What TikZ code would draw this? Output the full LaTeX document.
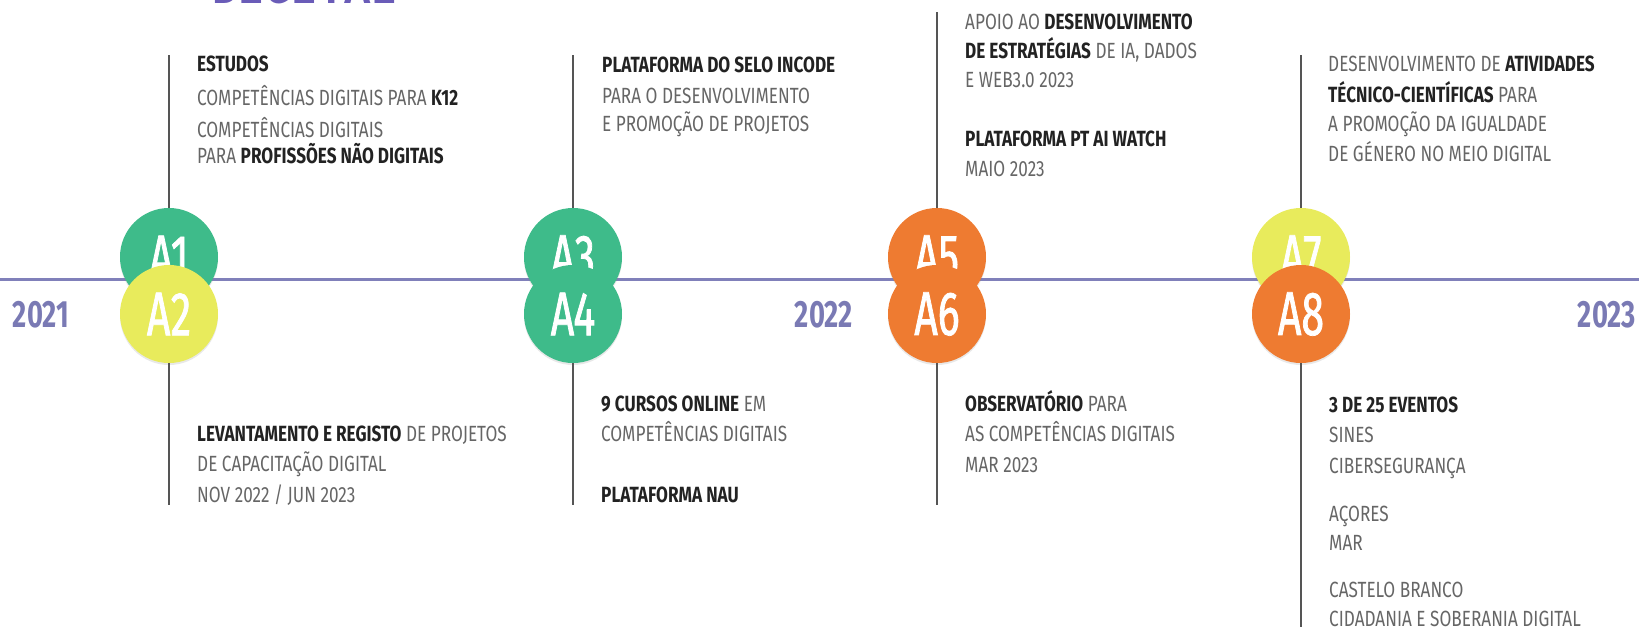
\documentclass[tikz,border=0pt]{standalone}
\usepackage{fontspec}
\setmainfont{Fira Sans}
\newfontfamily\cond[FakeStretch=0.78]{Fira Sans}
\newfontfamily\condyear[FakeStretch=0.72]{Fira Sans}
\newfontfamily\condlab[FakeStretch=0.66, FakeBold=1.2]{Fira Sans}
\newfontfamily\monof{Liberation Mono}
\usetikzlibrary{shadows}
\definecolor{linec}{HTML}{8080BA}
\definecolor{yearc}{HTML}{7A7AB4}
\definecolor{cgreen}{HTML}{3EBB8A}
\definecolor{cyellow}{HTML}{E8EB5C}
\definecolor{corange}{HTML}{EE7B31}
\definecolor{txtgray}{HTML}{666666}
\definecolor{txtdark}{HTML}{222222}
\definecolor{vlinec}{HTML}{555555}
\definecolor{titlec}{HTML}{6A5CB8}
\newcommand\hb[1]{{\bfseries\color{txtdark}#1}}
\tikzset{
  hline/.style={draw=linec, line width=3pt},
  vline/.style={draw=vlinec, line width=1.5pt},
  circ/.style={circle, minimum size=98pt, inner sep=0pt, text=white,
    font=\condlab\fontsize{62}{62}\selectfont,
    drop shadow={opacity=0.18, shadow xshift=0pt, shadow yshift=-2pt}},
  year/.style={inner sep=0pt, text=yearc, font=\condyear\bfseries\fontsize{38}{38}\selectfont},
  txt/.style={anchor=base west, inner sep=0pt, text=txtgray, font=\cond\fontsize{22}{26}\selectfont},
  titletxt/.style={anchor=base, inner sep=0pt, text=titlec, font=\monof\bfseries\fontsize{44}{44}\selectfont}
}
\begin{document}
\begin{tikzpicture}[x=1pt,y=-1pt]
\useasboundingbox (0,0) rectangle (1639,629);
\node[titletxt] (dig) at (305,4) {DIGITAL};
% timeline
\coordinate (L) at (0,279);
\coordinate (R) at (1639,279);
\draw[hline] (L) -- (R);
% year labels
\node[year] (y21) at (41,315) {2021};
\node[year] (y22) at (824,315) {2022};
\node[year] (y23) at (1607,315) {2023};
% end points of stems
\coordinate (t1) at (169,55);
\coordinate (t3) at (573,55);
\coordinate (t5) at (937,12);
\coordinate (t7) at (1301,55);
\coordinate (b2) at (169,505);
\coordinate (b4) at (573,505);
\coordinate (b6) at (937,505);
\coordinate (b8) at (1301,627);
% circles
\node[circ, fill=cgreen] (a1) at (169,257) {A1};
\node[circ, fill=cyellow] (a2) at (169,314) {A2};
\node[circ, fill=cgreen] (a3) at (573,257) {A3};
\node[circ, fill=cgreen] (a4) at (573,314) {A4};
\node[circ, fill=corange] (a5) at (937,257) {A5};
\node[circ, fill=corange] (a6) at (937,314) {A6};
\node[circ, fill=cyellow] (a7) at (1301,257) {A7};
\node[circ, fill=corange] (a8) at (1301,314) {A8};
% stems
\draw[vline] (t1) -- (a1);
\draw[vline] (t3) -- (a3);
\draw[vline] (t5) -- (a5);
\draw[vline] (t7) -- (a7);
\draw[vline] (a2) -- (b2);
\draw[vline] (a4) -- (b4);
\draw[vline] (a6) -- (b6);
\draw[vline] (a8) -- (b8);
% A1 text
\node[txt] (a1l1) at (197,71) {\hb{ESTUDOS}};
\node[txt] (a1l2) at (197,105) {COMPETÊNCIAS DIGITAIS PARA \hb{K12}};
\node[txt] (a1l3) at (197,137) {COMPETÊNCIAS DIGITAIS};
\node[txt] (a1l4) at (197,163) {PARA \hb{PROFISSÕES NÃO DIGITAIS}};
% A3 text
\node[txt] (a3l1) at (602,72) {\hb{PLATAFORMA DO SELO INCODE}};
\node[txt] (a3l2) at (602,103) {PARA O DESENVOLVIMENTO};
\node[txt] (a3l3) at (602,131) {E PROMOÇÃO DE PROJETOS};
% A5 text
\node[txt] (a5l1) at (965,29) {APOIO AO \hb{DESENVOLVIMENTO}};
\node[txt] (a5l2) at (965,58) {\hb{DE ESTRATÉGIAS} DE IA, DADOS};
\node[txt] (a5l3) at (965,87) {E WEB3.0 2023};
\node[txt] (a5l4) at (965,146) {\hb{PLATAFORMA PT AI WATCH}};
\node[txt] (a5l5) at (965,176) {MAIO 2023};
% A7 text
\node[txt] (a7l1) at (1328,71) {DESENVOLVIMENTO DE \hb{ATIVIDADES}};
\node[txt] (a7l2) at (1328,102) {\hb{TÉCNICO-CIENTÍFICAS} PARA};
\node[txt] (a7l3) at (1328,131) {A PROMOÇÃO DA IGUALDADE};
\node[txt] (a7l4) at (1328,161) {DE GÉNERO NO MEIO DIGITAL};
% A2 text
\node[txt] (a2l1) at (197,441) {\hb{LEVANTAMENTO E REGISTO} DE PROJETOS};
\node[txt] (a2l2) at (197,471) {DE CAPACITAÇÃO DIGITAL};
\node[txt] (a2l3) at (197,502) {NOV 2022 / JUN 2023};
% A4 text
\node[txt] (a4l1) at (601,411) {\hb{9 CURSOS ONLINE} EM};
\node[txt] (a4l2) at (601,441) {COMPETÊNCIAS DIGITAIS};
\node[txt] (a4l3) at (601,502) {\hb{PLATAFORMA NAU}};
% A6 text
\node[txt] (a6l1) at (965,411) {\hb{OBSERVATÓRIO} PARA};
\node[txt] (a6l2) at (965,441) {AS COMPETÊNCIAS DIGITAIS};
\node[txt] (a6l3) at (965,472) {MAR 2023};
% A8 text
\node[txt] (a8l1) at (1329,412) {\hb{3 DE 25 EVENTOS}};
\node[txt] (a8l2) at (1329,442) {SINES};
\node[txt] (a8l3) at (1329,473) {CIBERSEGURANÇA};
\node[txt] (a8l4) at (1329,521) {AÇORES};
\node[txt] (a8l5) at (1329,550) {MAR};
\node[txt] (a8l6) at (1329,597) {CASTELO BRANCO};
\node[txt] (a8l7) at (1329,626) {CIDADANIA E SOBERANIA DIGITAL};
\end{tikzpicture}
\end{document}
